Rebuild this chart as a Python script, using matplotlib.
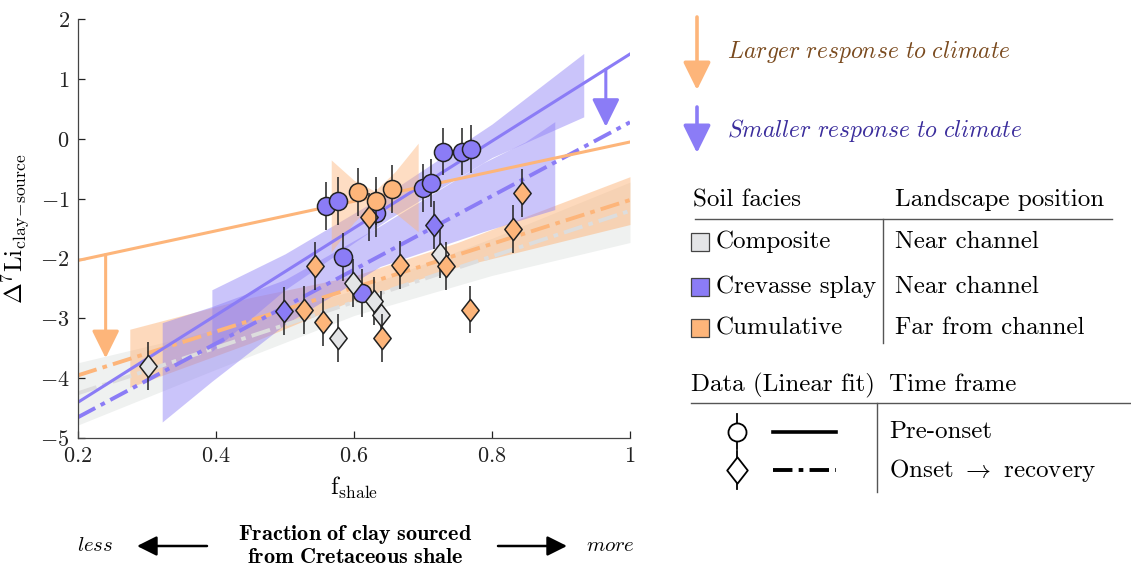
import numpy as np
import matplotlib
matplotlib.use("Agg")
import matplotlib.pyplot as plt
from matplotlib.path import Path
from matplotlib.patches import Rectangle
from matplotlib.ticker import FuncFormatter, FixedLocator

plt.rcParams["font.family"] = "serif"
plt.rcParams["font.serif"] = ["cmr10"]
plt.rcParams["mathtext.fontset"] = "cm"
plt.rcParams["axes.formatter.use_mathtext"] = True
plt.rcParams["axes.unicode_minus"] = False

# ── Colours ────────────────────────────────────────────────────────────────────
PURPLE = "#8b7cf6"
ORANGE = "#fdb57a"
GRAY = "#e4e5e7"
GRAY_LINE = "#dddddd"
GRAY_BAND = "#eff1f0"

# ── Data ───────────────────────────────────────────────────────────────────────
# pre-onset, crevasse splay (circles)
cs_pre_x = [0.559, 0.577, 0.632, 0.584, 0.611, 0.700, 0.711, 0.729, 0.757, 0.769]
cs_pre_y = [-1.12, -1.03, -1.24, -1.97, -2.58, -0.82, -0.74, -0.21, -0.21, -0.17]
# pre-onset, cumulative (circles)
cu_pre_x = [0.606, 0.632, 0.655]
cu_pre_y = [-0.89, -1.03, -0.84]
# onset -> recovery, composite (diamonds)
co_on_x = [0.301, 0.577, 0.599, 0.629, 0.639, 0.725]
co_on_y = [-3.80, -3.33, -2.41, -2.71, -2.94, -1.92]
# onset -> recovery, crevasse splay (diamonds)
cs_on_x = [0.498, 0.716]
cs_on_y = [-2.87, -1.44]
# onset -> recovery, cumulative (diamonds)
cu_on_x = [0.622, 0.543, 0.666, 0.734, 0.528, 0.555, 0.641, 0.768, 0.830, 0.843]
cu_on_y = [-1.31, -2.12, -2.10, -2.12, -2.86, -3.06, -3.32, -2.85, -1.50, -0.90]
err = 0.4

# linear fits
fit_x = [0.2, 1.0]
cs_pre_fit = [-4.40, 1.42]
cs_on_fit = [-4.65, 0.28]
cu_pre_fit = [-2.03, -0.05]
cu_on_fit = [-3.95, -1.02]
co_on_fit = [-4.25, -1.20]

# confidence bands
co_band_x = [0.2, 0.4, 0.6, 0.8, 1.0]
co_band_lo = [-4.78, -3.85, -2.95, -2.28, -1.73]
co_band_hi = [-3.74, -3.19, -2.53, -1.66, -0.72]

cu_on_band_x = [0.275, 0.45, 0.60, 0.75, 1.0]
cu_on_band_lo = [-4.15, -3.41, -2.69, -2.14, -1.43]
cu_on_band_hi = [-3.18, -2.65, -2.29, -1.73, -0.63]

cu_pre_band_x = [0.567, 0.60, 0.63, 0.66, 0.693]
cu_pre_band_lo = [-1.89, -1.39, -1.07, -1.24, -1.55]
cu_pre_band_hi = [-0.35, -0.69, -0.87, -0.54, -0.07]

cs_on_band_x = [0.322, 0.394, 0.50, 0.638, 0.787, 0.848, 0.891]
cs_on_band_lo = [-4.73, -4.05, -3.10, -2.13, -1.55, -1.33, -1.18]
cs_on_band_hi = [-3.07, -2.80, -2.35, -1.45, -0.40, -0.05, 0.29]

cs_pre_band_x = [0.394, 0.50, 0.65, 0.80, 0.933]
cs_pre_band_lo = [-3.55, -2.52, -1.34, -0.31, 0.37]
cs_pre_band_hi = [-2.52, -1.92, -0.90, 0.25, 1.43]

# arrows showing shift from pre-onset to onset fits
arrow_cu_x = 0.24
arrow_cs_x = 0.965

DIAMOND = Path([(0, 1), (0.78, 0), (0, -1), (-0.78, 0), (0, 1)],
               [Path.MOVETO, Path.LINETO, Path.LINETO, Path.LINETO, Path.CLOSEPOLY])
DASHDOT = (5, 1.6, 1.2, 1.6)


def fmt(v, pos):
    return f"${v:g}$"


fig = plt.figure(figsize=(11.31, 5.69), dpi=100)
ax = fig.add_axes([0.069, 0.230, 0.488, 0.736])

# bands
ax.fill_between(co_band_x, co_band_lo, co_band_hi, color=GRAY_BAND, lw=0, zorder=1)
ax.fill_between(cu_on_band_x, cu_on_band_lo, cu_on_band_hi, color=ORANGE, alpha=0.5, lw=0, zorder=1.1)
ax.fill_between(cs_on_band_x, cs_on_band_lo, cs_on_band_hi, color=PURPLE, alpha=0.45, lw=0, zorder=1.2)
ax.fill_between(cs_pre_band_x, cs_pre_band_lo, cs_pre_band_hi, color=PURPLE, alpha=0.45, lw=0, zorder=1.2)
ax.fill_between(cu_pre_band_x, cu_pre_band_lo, cu_pre_band_hi, color=ORANGE, alpha=0.45, lw=0, zorder=1.3)

# fit lines
ax.plot(fit_x, co_on_fit, color=GRAY_LINE, lw=2.8, dashes=DASHDOT, zorder=2)
ax.plot(fit_x, cu_on_fit, color=ORANGE, lw=2.8, dashes=DASHDOT, zorder=2)
ax.plot(fit_x, cs_on_fit, color=PURPLE, lw=2.8, dashes=DASHDOT, zorder=2)
ax.plot(fit_x, cs_pre_fit, color=PURPLE, lw=2.2, zorder=2)
ax.plot(fit_x, cu_pre_fit, color=ORANGE, lw=2.2, zorder=2)

# data
groups = [
    (cs_pre_x, cs_pre_y, "o", PURPLE, 13),
    (co_on_x, co_on_y, DIAMOND, GRAY, 16),
    (cs_on_x, cs_on_y, DIAMOND, PURPLE, 16),
    (cu_on_x, cu_on_y, DIAMOND, ORANGE, 16),
    (cu_pre_x, cu_pre_y, "o", ORANGE, 13),
]
z = 3
for gx, gy, mk, col, ms in groups:
    gy = np.asarray(gy)
    ax.vlines(gx, gy - err, gy + err, color="#222222", lw=1.1, zorder=z)
    ax.plot(gx, gy, ls="none", marker=mk, ms=ms, mfc=col, mec="#222222",
            mew=1.1, zorder=z + 0.5)
    z += 1

# shift arrows
head = "-|>,head_length=0.85,head_width=0.42"
for ax_x, y_from, y_to, col in [
    (arrow_cu_x, cu_pre_fit, cu_on_fit, ORANGE),
    (arrow_cs_x, cs_pre_fit, cs_on_fit, PURPLE),
]:
    y0 = np.interp(ax_x, fit_x, y_from)
    y1 = np.interp(ax_x, fit_x, y_to)
    ax.annotate("", xy=(ax_x, y1 + 0.14), xytext=(ax_x, y0),
                arrowprops=dict(arrowstyle=head, color=col, lw=2.2,
                                shrinkA=0, shrinkB=0, mutation_scale=20),
                zorder=10)

ax.set_xlim(0.2, 1.0)
ax.set_ylim(-5, 2)
ax.xaxis.set_major_locator(FixedLocator([0.2, 0.4, 0.6, 0.8, 1.0]))
ax.yaxis.set_major_locator(FixedLocator(range(-5, 3)))
ax.xaxis.set_major_formatter(FuncFormatter(fmt))
ax.yaxis.set_major_formatter(FuncFormatter(fmt))
ax.tick_params(direction="in", length=5, width=0.9, labelsize=16, colors="#222222", pad=6)
for s in ["top", "right"]:
    ax.spines[s].set_visible(False)
for s in ["left", "bottom"]:
    ax.spines[s].set_color("#444444")
    ax.spines[s].set_linewidth(0.9)
ax.set_xlabel(r"$\mathrm{f}_{\mathrm{shale}}$", fontsize=18, labelpad=6)
ax.set_ylabel(r"$\Delta^{7}\mathrm{Li}_{\mathrm{clay\!-\!source}}$", fontsize=18, labelpad=6)

# ── Annotation / legend overlay in pixel coordinates ──────────────────────────
ov = fig.add_axes([0, 0, 1, 1])
ov.set_xlim(0, 1131)
ov.set_ylim(569, 0)
ov.axis("off")
ov.patch.set_alpha(0)

arr = dict(arrowstyle=head, lw=2.6, shrinkA=0, shrinkB=0, mutation_scale=20)
ov.annotate("", xy=(697, 90), xytext=(697, 17), arrowprops=dict(color=ORANGE, **arr))
ov.annotate("", xy=(697, 153), xytext=(697, 107), arrowprops=dict(color=PURPLE, **arr))
ov.text(727, 52, r"$\mathit{Larger\ response\ to\ climate}$", fontsize=17,
        color="#7a4a1e", va="center")
ov.text(727, 130, r"$\mathit{Smaller\ response\ to\ climate}$", fontsize=17,
        color="#3b2d9c", va="center")

fs = 18
ov.text(693, 200, "Soil facies", fontsize=fs, va="center")
ov.text(895, 200, "Landscape position", fontsize=fs, va="center")
ov.plot([695, 1112], [219, 219], color="#555555", lw=1)
ov.plot([883, 883], [219, 343], color="#555555", lw=1)
facies = ["Composite", "Crevasse splay", "Cumulative"]
positions = ["Near channel", "Near channel", "Far from channel"]
fac_cols = [GRAY, PURPLE, ORANGE]
for yy, name, pos, col in zip([242, 287, 328], facies, positions, fac_cols):
    ov.add_patch(Rectangle((691, yy - 9), 18, 18, fc=col, ec="#444444", lw=0.9))
    ov.text(716, yy, name, fontsize=fs, va="center")
    ov.text(895, yy, pos, fontsize=fs, va="center")

ov.text(691, 385, "Data (Linear fit)", fontsize=fs, va="center")
ov.text(889, 385, "Time frame", fontsize=fs, va="center")
ov.plot([691, 1131], [403, 403], color="#555555", lw=1)
ov.plot([877, 877], [403, 492], color="#555555", lw=1)
ov.plot([737, 737], [414, 449], color="k", lw=1.3)
ov.plot([737], [432], marker="o", ms=13, mfc="white", mec="k", mew=1.3)
ov.plot([737, 737], [451, 489], color="k", lw=1.3)
ov.plot([737], [470], marker=DIAMOND, ms=19, mfc="white", mec="k", mew=1.3)
ov.plot([773, 836], [432, 432], color="k", lw=2.6)
ov.plot([773, 836], [470, 470], color="k", lw=2.8, dashes=DASHDOT)
ov.text(889, 432, "Pre-onset", fontsize=fs, va="center")
ov.text(889, 470, r"Onset $\rightarrow$ recovery", fontsize=fs, va="center")

# bottom annotation
ov.text(95, 546, r"$\mathit{less}$", fontsize=15, ha="center", va="center")
ov.text(610, 546, r"$\mathit{more}$", fontsize=15, ha="center", va="center")
ov.text(355, 534, r"$\mathbf{Fraction\ of\ clay\ sourced}$", fontsize=16,
        ha="center", va="center")
ov.text(355, 557, r"$\mathbf{from\ Cretaceous\ shale}$", fontsize=16,
        ha="center", va="center")
barr = dict(arrowstyle="-|>,head_length=0.8,head_width=0.4", lw=1.8, color="k",
            shrinkA=0, shrinkB=0, mutation_scale=15)
ov.annotate("", xy=(137, 546), xytext=(207, 546), arrowprops=barr)
ov.annotate("", xy=(567, 546), xytext=(498, 546), arrowprops=barr)

fig.savefig("out.png", dpi=100, facecolor="white")
